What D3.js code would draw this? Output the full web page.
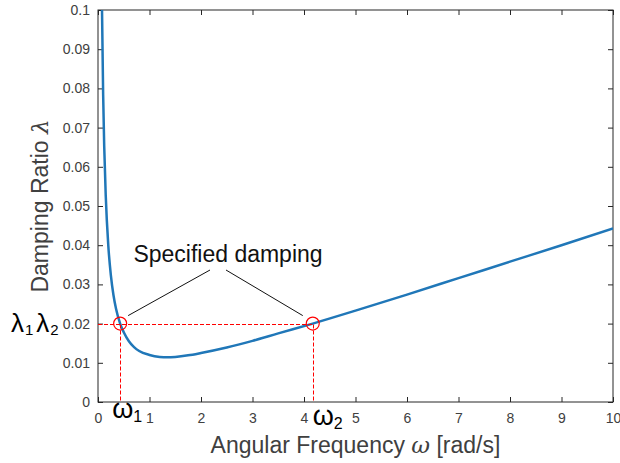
<!DOCTYPE html>
<html>
<head>
<meta charset="utf-8">
<script src="https://cdn.jsdelivr.net/npm/d3@7"></script>
<style>
  body { margin: 0; background: #fff; }
  text { font-family: "Liberation Sans", Arial, sans-serif; }
  .axis text { fill: #404040; font-size: 14px; }
  .axis line { stroke: #262626; }
  .axis path { display: none; }
</style>
</head>
<body>
<script>
// curve: angular frequency [rad/s] vs damping ratio
var omega = [0.078, 0.1, 0.12, 0.15, 0.2, 0.25, 0.3, 0.35, 0.43, 0.5, 0.6,
             0.7, 0.8, 1.0, 1.2, 1.35, 1.5, 1.75, 2, 2.5, 3, 3.5, 4.17, 5,
             6, 7, 8, 9, 10];
var dampingRatio = [0.1, 0.0784, 0.0655, 0.0527, 0.0399, 0.0323, 0.0273,
                    0.0238, 0.0200, 0.0178, 0.0155, 0.0140, 0.0130, 0.0120,
                    0.0115, 0.0114, 0.0115, 0.0119, 0.0125, 0.0139, 0.0156,
                    0.0175, 0.0200, 0.0233, 0.0274, 0.0316, 0.0358, 0.0400,
                    0.0443];
var xTicks = [0, 1, 2, 3, 4, 5, 6, 7, 8, 9, 10];
var yTicks = [0, 0.01, 0.02, 0.03, 0.04, 0.05, 0.06, 0.07, 0.08, 0.09, 0.1];
// the two frequencies where the specified damping is met
var specOmega = [0.43, 4.17];
var specLambda = 0.02;
var specLabels = ["1", "2"];

var W = 620, H = 463;
var margin = {top: 10, right: 7, bottom: 61, left: 98},
    width = W - margin.left - margin.right,
    height = H - margin.top - margin.bottom;

var svg = d3.select("body").append("svg")
    .attr("width", W)
    .attr("height", H);

var g = svg.append("g")
    .attr("transform", "translate(" + margin.left + "," + margin.top + ")");

var x = d3.scaleLinear().domain([0, 10]).range([0, width]);
var y = d3.scaleLinear().domain([0, 0.1]).range([height, 0]);

svg.append("defs").append("clipPath").attr("id", "plotclip")
    .append("rect").attr("width", width).attr("height", height);

// axes with ticks pointing inward on all four sides
g.append("g").attr("class", "axis")
    .attr("transform", "translate(0," + height + ")")
    .call(d3.axisBottom(x).tickValues(xTicks).tickSize(-5).tickPadding(11)
        .tickFormat(d3.format("d")));
g.append("g").attr("class", "axis")
    .call(d3.axisTop(x).tickValues(xTicks).tickSize(-5).tickFormat(""));
g.append("g").attr("class", "axis")
    .call(d3.axisLeft(y).tickValues(yTicks).tickSize(-5).tickPadding(8)
        .tickFormat(function(d) { return d === 0 ? "0" : d3.format(".2~f")(d); }));
g.append("g").attr("class", "axis")
    .attr("transform", "translate(" + width + ",0)")
    .call(d3.axisRight(y).tickValues(yTicks).tickSize(-5).tickFormat(""));

g.append("rect")
    .attr("width", width)
    .attr("height", height)
    .attr("fill", "none")
    .attr("stroke", "#262626")
    .attr("stroke-width", 1);

// the damping curve
var pts = omega.map(function(w, i) { return [w, dampingRatio[i]]; });
var line = d3.line()
    .x(function(d) { return x(d[0]); })
    .y(function(d) { return y(d[1]); })
    .curve(d3.curveMonotoneX);

g.append("path")
    .datum(pts)
    .attr("clip-path", "url(#plotclip)")
    .attr("d", line)
    .attr("fill", "none")
    .attr("stroke", "#2077b8")
    .attr("stroke-width", 2.5);

// red dashed guides (snapped to the pixel grid so they stay bright red)
var yGuide = Math.round(y(specLambda)) + 0.5;
g.append("line")
    .attr("x1", 0).attr("x2", x(specOmega[1]))
    .attr("y1", yGuide).attr("y2", yGuide)
    .attr("stroke", "#ff0000").attr("stroke-width", 1)
    .attr("stroke-dasharray", "4,2");
specOmega.forEach(function(w) {
    var xg = Math.round(x(w)) + 0.5;
    g.append("line")
        .attr("x1", xg).attr("x2", xg)
        .attr("y1", yGuide).attr("y2", height)
        .attr("stroke", "#ff0000").attr("stroke-width", 1)
        .attr("stroke-dasharray", "4,2");
    g.append("circle")
        .attr("cx", x(w)).attr("cy", y(specLambda))
        .attr("r", 6.5)
        .attr("fill", "none")
        .attr("stroke", "#ff0000")
        .attr("stroke-width", 1.2);
});

// annotation
svg.append("text")
    .attr("x", 228).attr("y", 262)
    .attr("text-anchor", "middle")
    .style("font-size", "23px")
    .attr("fill", "#111")
    .text("Specified damping");
svg.append("line")
    .attr("x1", 210).attr("y1", 270)
    .attr("x2", margin.left + x(specOmega[0]) + 8)
    .attr("y2", margin.top + y(specLambda) - 8)
    .attr("stroke", "#111").attr("stroke-width", 1);
svg.append("line")
    .attr("x1", 226).attr("y1", 270)
    .attr("x2", margin.left + x(specOmega[1]) - 10)
    .attr("y2", margin.top + y(specLambda) - 8)
    .attr("stroke", "#111").attr("stroke-width", 1);

// lambda labels on the left
var lam = svg.append("text")
    .attr("x", 11).attr("y", 332)
    .attr("fill", "#000")
    .style("font-size", "26px");
specLabels.forEach(function(s, i) {
    lam.append("tspan").attr("dy", i === 0 ? 0 : -3).attr("dx", i === 0 ? 0 : 3)
        .text("\u03bb");
    lam.append("tspan").attr("dy", 3).attr("dx", 1)
        .style("font-size", "15px").text(s);
});

// omega labels under the axis
var omegaDx = [-8, 0];
var omegaDy = [0, 7];
specOmega.forEach(function(w, i) {
    var t = svg.append("text")
        .attr("x", margin.left + x(w) + omegaDx[i])
        .attr("y", 418 + omegaDy[i])
        .attr("fill", "#000")
        .style("font-size", "27px");
    t.append("tspan").text("\u03c9");
    t.append("tspan").attr("dy", 4).style("font-size", "16px").text(specLabels[i]);
});

// axis titles
var xl = svg.append("text")
    .attr("x", margin.left + width / 2)
    .attr("y", 453)
    .attr("text-anchor", "middle")
    .attr("fill", "#404040")
    .style("font-size", "23px");
xl.append("tspan").text("Angular Frequency ");
xl.append("tspan").style("font-family", "'DejaVu Serif', serif")
    .style("font-style", "italic").text("\u03c9");
xl.append("tspan").text(" [rad/s]");

var yl = svg.append("text")
    .attr("transform", "translate(48," + (margin.top + height / 2) + ") rotate(-90)")
    .attr("text-anchor", "middle")
    .attr("fill", "#404040")
    .style("font-size", "23px");
yl.append("tspan").text("Damping Ratio ");
yl.append("tspan").style("font-family", "'DejaVu Serif', serif")
    .style("font-style", "italic").text("\u03bb");
</script>
</body>
</html>
